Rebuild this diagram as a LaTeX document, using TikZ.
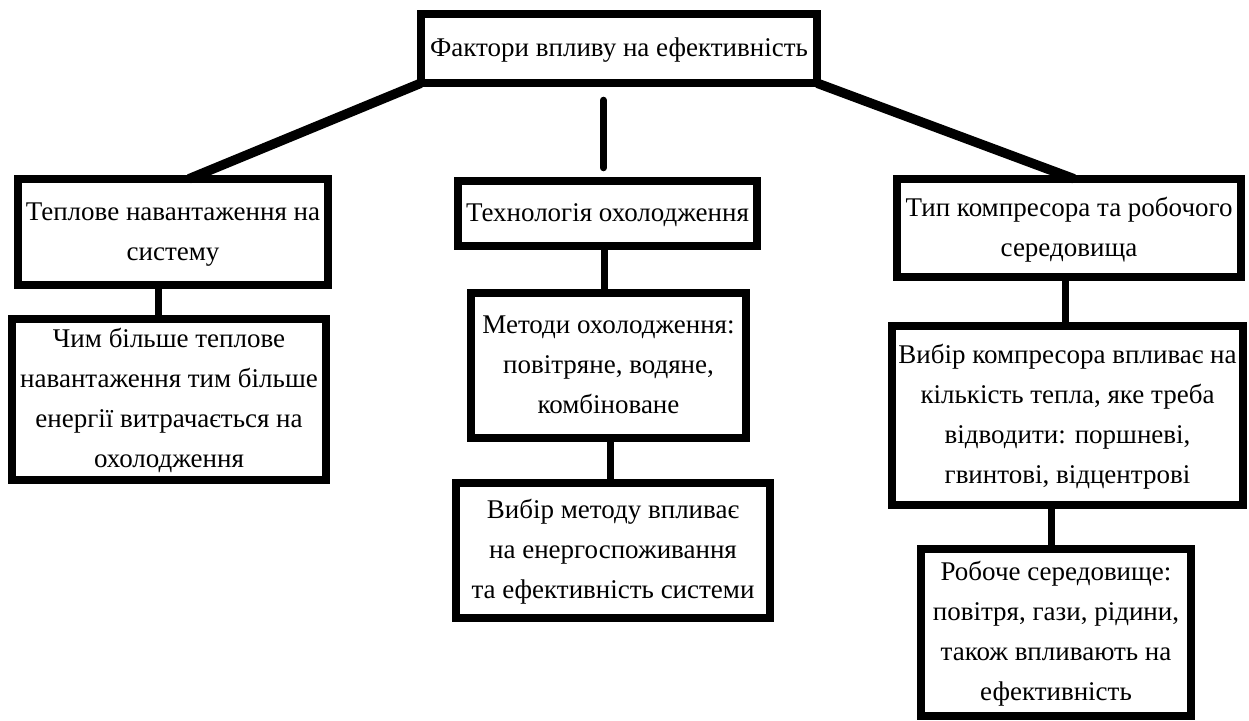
\documentclass[tikz,border=0pt]{standalone}
\usepackage{fontspec}
\setmainfont{Liberation Serif}
\newcommand{\boxtext}[2][0pt]{\raisebox{#1}{\begin{tabular}{@{}c@{}}#2\end{tabular}}}

\begin{document}
\begin{tikzpicture}[x=1pt, y=-1pt,
    box/.style={inner sep=0pt, font=\fontsize{27}{40}\selectfont},
    frame/.style={line width=8pt},
    link/.style={line width=7pt},
    diag/.style={line width=9.5pt}]
    \useasboundingbox (0,0) rectangle (1249,720);
    % boxes
    \node[box, minimum width=396, minimum height=69] (top) at (619,48.5) {\boxtext{Фактори впливу на ефективність}};
    \node[box, minimum width=310, minimum height=106] (l) at (173,232) {\boxtext[4pt]{Теплове навантаження на\\систему}};
    \node[box, minimum width=299, minimum height=65] (m) at (607.5,213.5) {\boxtext{Технологія охолодження}};
    \node[box, minimum width=344, minimum height=98] (r) at (1069,228) {\boxtext{Тип компресора та робочого\\середовища}};
    \node[box, minimum width=314, minimum height=159] (lc) at (169,399.5) {\boxtext[-8pt]{Чим більше теплове\\навантаження тим більше\\енергії витрачається на\\охолодження}};
    \node[box, minimum width=275, minimum height=145] (mc1) at (608.5,365.5) {\boxtext{Методи охолодження:\\повітряне, водяне,\\комбіноване}};
    \node[box, minimum width=314, minimum height=135] (mc2) at (613,550.5) {\boxtext[4pt]{Вибір методу впливає\\на енергоспоживання\\та ефективність системи}};
    \node[box, minimum width=351, minimum height=179] (rc1) at (1067.5,415.5) {\boxtext[-3pt]{Вибір компресора впливає на\\кількість тепла, яке треба\\відводити: поршневі,\\гвинтові, відцентрові}};
    \node[box, minimum width=270, minimum height=167] (rc2) at (1056,632.5) {\boxtext[-6pt]{Робоче середовище:\\повітря, гази, рідини,\\також впливають на\\ефективність}};
    \foreach \n in {top,l,m,r,lc,mc1,mc2,rc1,rc2}
    \draw[frame] (\n.north west) rectangle (\n.south east);
    % connectors
    \draw[diag] (top.south west) -- ([xshift=16pt]l.north);
    \draw[diag] (top.south east) -- ([xshift=5pt]r.north);
    \draw[link, line cap=round, shorten <=17pt, shorten >=13pt] ([xshift=-4pt]top.south -| m.north) -- ([xshift=-4pt]m.north);
    \foreach \a/\b/\s in {l/lc/-15, m/mc1/-3.5, mc1/mc2/1.5, r/rc1/-4, rc1/rc2/-16.5}
    \draw[link] ([xshift=\s pt]\a.south) -- ([xshift=\s pt]\a.south |- \b.north);
\end{tikzpicture}
\end{document}
